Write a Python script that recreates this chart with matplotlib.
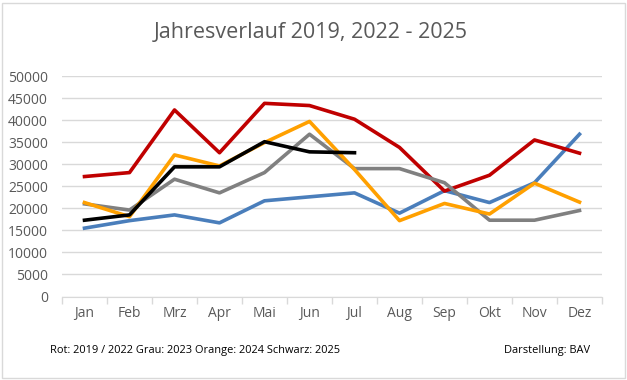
import matplotlib.pyplot as plt
from matplotlib.patches import Rectangle

months = ['Jan', 'Feb', 'Mrz', 'Apr', 'Mai', 'Jun', 'Jul', 'Aug', 'Sep', 'Okt', 'Nov', 'Dez']

rot_2019_2022 = [27200, 28100, 42300, 32600, 43800, 43300, 40200, 33800, 23900, 27500, 35500, 32500]
blau = [15500, 17200, 18500, 16700, 21700, 22600, 23500, 18900, 24000, 21300, 25800, 36800]
grau_2023 = [21000, 19600, 26600, 23500, 28100, 36800, 29000, 29000, 25800, 17300, 17300, 19500]
orange_2024 = [21300, 18100, 32100, 29600, 34900, 39700, 28800, 17200, 21100, 18700, 25700, 21400]
schwarz_2025 = [17300, 18500, 29400, 29400, 35100, 32800, 32600]

yticks = list(range(0, 50001, 5000))

plt.rcParams['font.family'] = ['Open Sans', 'DejaVu Sans']

fig = plt.figure(figsize=(6.27, 3.8), dpi=100)
W, H = 627, 380
ax = fig.add_axes([62 / W, 1 - 296.5 / H, (602 - 62) / W, (296.5 - 76) / H])

x = list(range(len(months)))
lw = 2.6
ax.plot(x, blau, color='#4A7EBB', lw=lw, solid_joinstyle='round', zorder=3)
ax.plot(x, rot_2019_2022, color='#C00000', lw=lw, solid_joinstyle='round', zorder=4)
ax.plot(x, grau_2023, color='#808080', lw=lw, solid_joinstyle='round', zorder=5)
ax.plot(x, orange_2024, color='#FFA000', lw=lw, solid_joinstyle='round', zorder=6)
ax.plot(x[:len(schwarz_2025)], schwarz_2025, color='black', lw=lw, solid_joinstyle='round', zorder=7)

ax.set_xlim(-0.5, len(months) - 0.5)
ax.set_ylim(0, 50000)
ax.set_yticks(yticks)
ax.set_yticklabels([str(v) for v in yticks], fontsize=10, color='#595959')
ax.tick_params(axis='y', length=0, pad=10)
ax.grid(axis='y', color='#D9D9D9', lw=1)
ax.set_axisbelow(True)

ax.set_xticks(x)
ax.set_xticklabels(months, fontsize=10, color='#595959')
ax.tick_params(axis='x', length=0, pad=7)
ax.set_xticks([i - 0.5 for i in range(len(months) + 1)], minor=True)
ax.tick_params(axis='x', which='minor', length=5, color='#D9D9D9', width=1)

for s in ['top', 'right', 'left']:
    ax.spines[s].set_visible(False)
ax.spines['bottom'].set_color('#D9D9D9')

fig.text(311 / W, 1 - 33 / H, 'Jahresverlauf 2019, 2022 - 2025', ha='center', va='center',
         fontsize=15.5, color='#595959')
fig.text(50 / W, 1 - 351 / H, 'Rot: 2019 / 2022 Grau: 2023 Orange: 2024 Schwarz: 2025',
         ha='left', va='center', fontsize=7.9, color='black')
fig.text(590 / W, 1 - 351 / H, 'Darstellung: BAV', ha='right', va='center',
         fontsize=7.9, color='black')

fig.patches.append(Rectangle((2 / W, 2 / H), 623 / W, 375 / H, transform=fig.transFigure,
                             fill=False, edgecolor='#D9D9D9', lw=1))

fig.savefig('out.png', dpi=100)
